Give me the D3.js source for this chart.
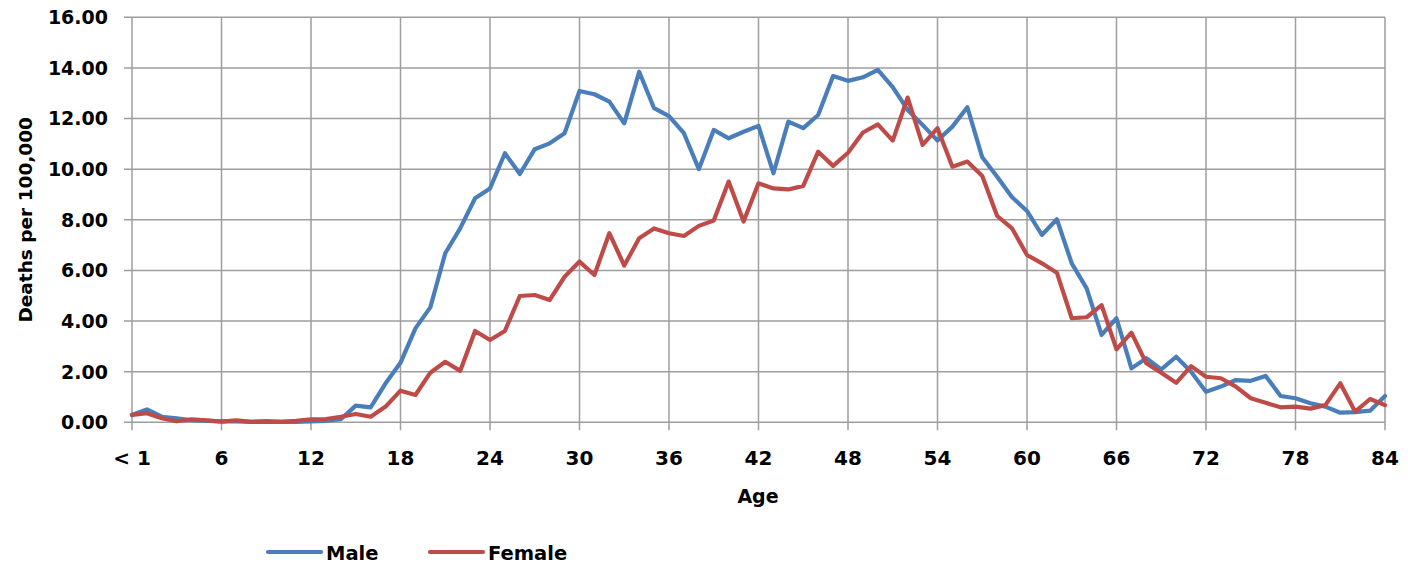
<!DOCTYPE html>
<html>
<head>
<meta charset="utf-8">
<script src="https://cdn.jsdelivr.net/npm/d3@7"></script>
<style>
  html, body { margin: 0; padding: 0; background: #ffffff; }
  svg text { font-family: "DejaVu Sans", sans-serif; font-weight: bold; fill: #000; }
</style>
</head>
<body>
<svg id="chart" width="1408" height="564"></svg>
<script>
const ages = d3.range(0, 85).map(a => a === 0 ? "< 1" : String(a));
const male = [
  0.29, 0.51, 0.22, 0.16, 0.08, 0.06, 0.04, 0.04, 0.02, 0.05, 0.02, 0.02, 0.04, 0.06, 0.12, 0.66, 0.59, 1.54, 2.35,
  3.71, 4.54, 6.68, 7.66, 8.85, 9.24, 10.63, 9.81, 10.79, 11.02, 11.42,
  13.09, 12.96, 12.67, 11.81, 13.85, 12.41, 12.10, 11.42, 10.00, 11.55,
  11.22, 11.48, 11.71, 9.84, 11.88, 11.62, 12.14, 13.68, 13.49, 13.63,
  13.92, 13.24, 12.34, 11.75, 11.13, 11.68, 12.45, 10.47, 9.70, 8.89,
  8.35, 7.40, 8.02, 6.28, 5.29, 3.45, 4.11, 2.13, 2.53, 2.09,
  2.59, 2.00, 1.21, 1.41, 1.67, 1.64, 1.83, 1.04, 0.95, 0.75,
  0.62, 0.38, 0.40, 0.46, 1.04
];
const female = [
  0.29, 0.36, 0.16, 0.04, 0.12, 0.08, 0.03, 0.08, 0.02, 0.02, 0.02, 0.06, 0.12, 0.13, 0.22, 0.33, 0.22, 0.62, 1.25,
  1.08, 1.96, 2.39, 2.03, 3.61, 3.25, 3.61, 4.99, 5.03, 4.83, 5.75,
  6.35, 5.82, 7.47, 6.19, 7.27, 7.66, 7.47, 7.36, 7.76, 7.97,
  9.51, 7.93, 9.44, 9.24, 9.20, 9.34, 10.69, 10.13, 10.65, 11.45,
  11.77, 11.13, 12.83, 10.96, 11.62, 10.10, 10.30, 9.73, 8.15, 7.66,
  6.61, 6.28, 5.91, 4.11, 4.15, 4.63, 2.88, 3.54, 2.33, 1.96,
  1.56, 2.22, 1.80, 1.74, 1.41, 0.95, 0.77, 0.59, 0.62, 0.54,
  0.68, 1.54, 0.42, 0.92, 0.68
];
const yTicks = [0, 2, 4, 6, 8, 10, 12, 14, 16];
const xTickLabels = ["< 1", "6", "12", "18", "24", "30", "36", "42", "48", "54", "60", "66", "72", "78", "84"];
const seriesNames = ["Male", "Female"];
const seriesColors = ["#4a7ebb", "#be4b48"];

const svg = d3.select("#chart");
const plotLeft = 132, plotRight = 1385, plotTop = 17.3, plotBottom = 422.3;
const x = d3.scalePoint().domain(ages).range([plotLeft, plotRight]);
const y = d3.scaleLinear().domain([0, 16]).range([plotBottom, plotTop]);
const gridColor = "#9e9e9e";

// horizontal gridlines
svg.append("g").selectAll("line").data(yTicks).join("line")
  .attr("x1", plotLeft - 8).attr("x2", plotRight)
  .attr("y1", d => y(d)).attr("y2", d => y(d))
  .attr("stroke", gridColor).attr("stroke-width", 1.5);

// vertical gridlines + tick marks
svg.append("g").selectAll("line").data(xTickLabels).join("line")
  .attr("x1", d => x(d)).attr("x2", d => x(d))
  .attr("y1", plotTop).attr("y2", plotBottom + 8)
  .attr("stroke", gridColor).attr("stroke-width", 1.5);

// y tick labels
svg.append("g").selectAll("text").data(yTicks).join("text")
  .attr("x", 108).attr("y", d => y(d)).attr("dy", "0.36em")
  .attr("text-anchor", "end").attr("font-size", 19)
  .text(d => d3.format(".2f")(d));

// x tick labels
svg.append("g").selectAll("text").data(xTickLabels).join("text")
  .attr("x", d => x(d)).attr("y", 465)
  .attr("text-anchor", "middle").attr("font-size", 20)
  .text(d => d);

// axis titles
svg.append("text").attr("x", 758).attr("y", 503)
  .attr("text-anchor", "middle").attr("font-size", 19).text("Age");
svg.append("text")
  .attr("transform", `translate(32,${(plotTop + plotBottom) / 2}) rotate(-90)`)
  .attr("text-anchor", "middle").attr("font-size", 18.5).text("Deaths per 100,000");

// lines
const line = d3.line().x((d, i) => x(ages[i])).y(d => y(d));
[male, female].forEach((s, k) => {
  svg.append("path").datum(s)
    .attr("d", line)
    .attr("fill", "none")
    .attr("stroke", seriesColors[k])
    .attr("stroke-width", 4.2)
    .attr("stroke-linejoin", "round")
    .attr("stroke-linecap", "round");
});

// legend
const legendX = [268, 430];
seriesNames.forEach((name, k) => {
  const g = svg.append("g").attr("transform", `translate(${legendX[k]},552)`);
  g.append("line").attr("x1", 0).attr("x2", 53).attr("y1", 0).attr("y2", 0)
    .attr("stroke", seriesColors[k]).attr("stroke-width", 4.2).attr("stroke-linecap", "round");
  g.append("text").attr("x", 58).attr("y", 8).attr("font-size", 19.5).text(name);
});
</script>
</body>
</html>
